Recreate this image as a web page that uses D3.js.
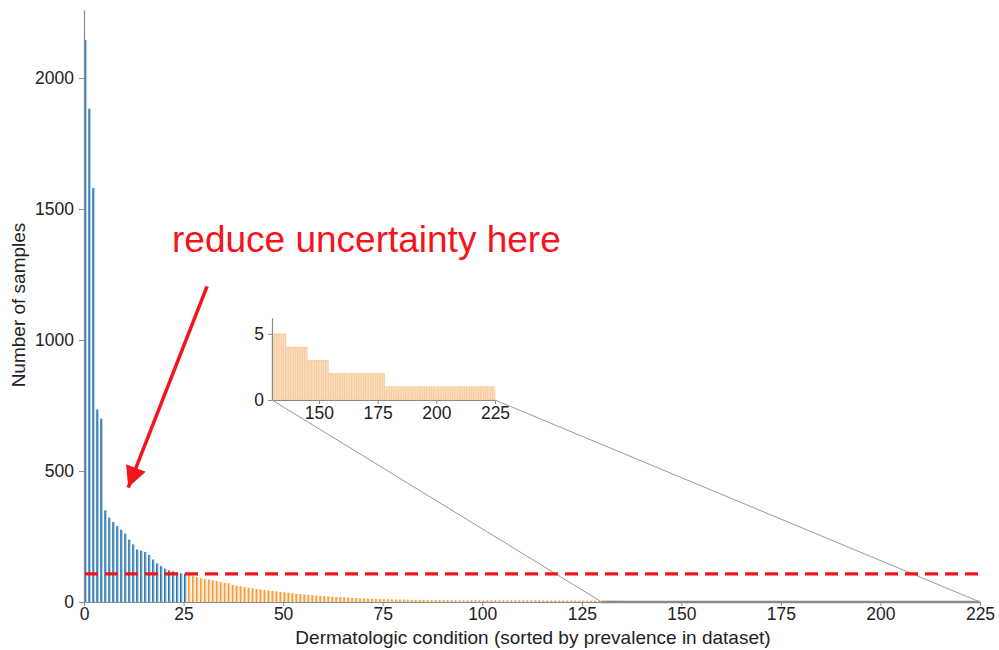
<!DOCTYPE html>
<html>
<head>
<meta charset="utf-8">
<script src="https://cdn.jsdelivr.net/npm/d3@7"></script>
<style>
  body { margin: 0; background: #fff; }
  svg { font-family: "Liberation Sans", Arial, sans-serif; }
</style>
</head>
<body>
<svg id="chart" width="999" height="650"></svg>
<script>
// samples per condition, sorted by prevalence (condition 1..26 = the top conditions)
const blueCounts = [2146, 1883, 1580, 735, 700, 350, 322, 305, 290, 276, 261, 238, 220,
    200, 196, 191, 180, 162, 147, 137, 127, 121, 117, 112, 110, 108];

// conditions 27..225
const orangeCounts = [
    105, 99, 96, 90, 87, 86, 83, 80, 76, 73, 71, 65, 62, 60, 57,
    54, 52, 50, 48, 46, 44, 42, 40, 38, 37, 35, 33, 31, 30, 29, 27, 26, 24, 23,
    22, 21, 20, 19, 19, 18, 17, 16, 15, 14, 14, 13, 12, 12, 11, 11, 10, 10, 9, 9,
    9, 9, 8, 8, 8, 8, 7, 7, 7, 7, 7, 7, 6, 6, 6, 6, 6, 6, 6, 6,
    6, 6, 6, 6, 6, 6, 6, 6, 6, 6, 6, 6, 6, 6, 6, 5, 5, 5, 5, 5,
    5, 5, 5, 5, 5, 5, 5, 5, 5, 5,
    5, 5, 5, 5, 5, 5,
    4, 4, 4, 4, 4, 4, 4, 4, 4,
    3, 3, 3, 3, 3, 3, 3, 3, 3,
    2, 2, 2, 2, 2, 2, 2, 2, 2, 2, 2, 2, 2, 2, 2, 2, 2, 2, 2, 2, 2, 2, 2, 2,
    1, 1, 1, 1, 1, 1, 1, 1, 1, 1, 1, 1, 1, 1, 1, 1, 1, 1, 1, 1, 1, 1, 1, 1,
    1, 1, 1, 1, 1, 1, 1, 1, 1, 1, 1, 1, 1, 1, 1, 1, 1, 1, 1, 1, 1, 1, 1
];

const xTicks = [0, 25, 50, 75, 100, 125, 150, 175, 200, 225];
const yTicks = [0, 500, 1000, 1500, 2000];
const insetXTicks = [150, 175, 200, 225];
const insetYTicks = [0, 5];
const insetStart = 130;
const threshold = 107;

const annotationText = "reduce uncertainty here";
const annotation = { textX: 22.1, textY: 1335, fromX: 30.9, fromY: 1205, toX: 11.1, toY: 437 };

const data = blueCounts.map((v, i) => ({ idx: i + 1, n: v, top: true }))
    .concat(orangeCounts.map((v, i) => ({ idx: blueCounts.length + i + 1, n: v, top: false })));

const svg = d3.select("#chart");

const x = d3.scaleLinear().domain([0, 225]).range([84, 980]);
const y = d3.scaleLinear().domain([0, 2260]).range([602, 10]);
const band = x(1) - x(0);

const colors = {
    blueDark: "#2f6ea6", blueLight: "#a8d5f2",
    orangeDark: "#f39a3a", orangeLight: "#fcd4a6",
    axis: "#8a8a8a", text: "#222", red: "#f5141c"
};

// bars
const bars = svg.append("g");
bars.selectAll("rect.light")
    .data(data)
    .join("rect")
    .attr("class", "light")
    .attr("x", d => x(d.idx - 1) + 0.4)
    .attr("width", band * 0.68)
    .attr("y", d => y(d.n))
    .attr("height", d => y(0) - y(d.n))
    .attr("fill", d => d.top ? colors.blueLight : colors.orangeLight);

bars.selectAll("rect.dark")
    .data(data)
    .join("rect")
    .attr("class", "dark")
    .attr("x", d => x(d.idx - 1) + 0.4)
    .attr("width", band * 0.36)
    .attr("y", d => y(d.n))
    .attr("height", d => y(0) - y(d.n))
    .attr("fill", d => d.top ? colors.blueDark : colors.orangeDark);

function styleAxis(g, size) {
    g.select(".domain").attr("stroke", colors.axis).attr("stroke-width", 1.2);
    g.selectAll(".tick line").attr("stroke", colors.axis);
    g.selectAll(".tick text").attr("fill", colors.text).style("font-size", size + "px");
}

const fmt = d3.format("d");

// x axis
svg.append("g")
    .attr("transform", `translate(0,${y(0)})`)
    .call(d3.axisBottom(x).tickValues(xTicks).tickFormat(fmt).tickSize(4).tickSizeOuter(0).tickPadding(2))
    .call(g => styleAxis(g, 17.5));

// y axis
svg.append("g")
    .attr("transform", `translate(${x(0)},0)`)
    .call(d3.axisLeft(y).tickValues(yTicks).tickFormat(fmt).tickSize(5).tickSizeOuter(0).tickPadding(5))
    .call(g => styleAxis(g, 17.5));

// highlighted tail on the x axis
svg.append("line")
    .attr("x1", x(insetStart)).attr("x2", x(225))
    .attr("y1", y(0)).attr("y2", y(0))
    .attr("stroke", colors.axis)
    .attr("stroke-width", 2.5);

svg.append("text")
    .attr("x", (x(0) + x(225)) / 2 + 1)
    .attr("y", 644)
    .attr("text-anchor", "middle")
    .attr("fill", colors.text)
    .style("font-size", "19px")
    .text("Dermatologic condition (sorted by prevalence in dataset)");

svg.append("text")
    .attr("transform", `translate(25,${305}) rotate(-90)`)
    .attr("text-anchor", "middle")
    .attr("fill", colors.text)
    .style("font-size", "19px")
    .text("Number of samples");

// inset
const inset = { left: 272, right: 495, top: 318, bottom: 400 };
const xi = d3.scaleLinear().domain([insetStart, 225]).range([inset.left, inset.right]);
const yi = d3.scaleLinear().domain([0, 6.2]).range([inset.bottom, inset.top]);
const bandI = xi(1) - xi(0);
const tail = data.filter(d => d.idx > insetStart);

const ig = svg.append("g");
ig.selectAll("rect")
    .data(tail)
    .join("rect")
    .attr("x", d => xi(d.idx - 1))
    .attr("width", bandI)
    .attr("y", d => yi(d.n))
    .attr("height", d => yi(0) - yi(d.n))
    .attr("fill", "#fbdcbb")
    .attr("stroke", "#f4c38f")
    .attr("stroke-width", 0.5);

ig.append("g")
    .attr("transform", `translate(0,${inset.bottom})`)
    .call(d3.axisBottom(xi).tickValues(insetXTicks).tickFormat(fmt).tickSize(4).tickSizeOuter(0).tickPadding(3))
    .call(g => styleAxis(g, 17.5));

ig.append("g")
    .attr("transform", `translate(${inset.left},0)`)
    .call(d3.axisLeft(yi).tickValues(insetYTicks).tickFormat(fmt).tickSize(4).tickSizeOuter(0).tickPadding(4))
    .call(g => styleAxis(g, 17.5));

// zoom guide lines
svg.append("line")
    .attr("x1", xi(insetStart)).attr("y1", yi(0))
    .attr("x2", x(insetStart)).attr("y2", y(0))
    .attr("stroke", "#999").attr("stroke-width", 1);
svg.append("line")
    .attr("x1", xi(225)).attr("y1", yi(0))
    .attr("x2", x(225)).attr("y2", y(0))
    .attr("stroke", "#999").attr("stroke-width", 1);

// threshold
svg.append("line")
    .attr("x1", x(0) + 1).attr("x2", x(225))
    .attr("y1", y(threshold)).attr("y2", y(threshold))
    .attr("stroke", colors.red)
    .attr("stroke-width", 3.3)
    .attr("stroke-dasharray", "13,7");

// annotation
svg.append("defs").append("marker")
    .attr("id", "head")
    .attr("viewBox", "0 0 10 10")
    .attr("refX", 10).attr("refY", 5)
    .attr("markerUnits", "userSpaceOnUse")
    .attr("markerWidth", 27).attr("markerHeight", 21)
    .attr("orient", "auto")
    .append("path")
    .attr("d", "M0,0 L10,5 L0,10 Z")
    .attr("fill", colors.red);

svg.append("line")
    .attr("x1", x(annotation.fromX)).attr("y1", y(annotation.fromY))
    .attr("x2", x(annotation.toX)).attr("y2", y(annotation.toY))
    .attr("stroke", colors.red)
    .attr("stroke-width", 3.5)
    .attr("marker-end", "url(#head)");

svg.append("text")
    .attr("x", x(annotation.textX))
    .attr("y", y(annotation.textY))
    .attr("fill", colors.red)
    .style("font-size", "37px")
    .text(annotationText);
</script>
</body>
</html>
